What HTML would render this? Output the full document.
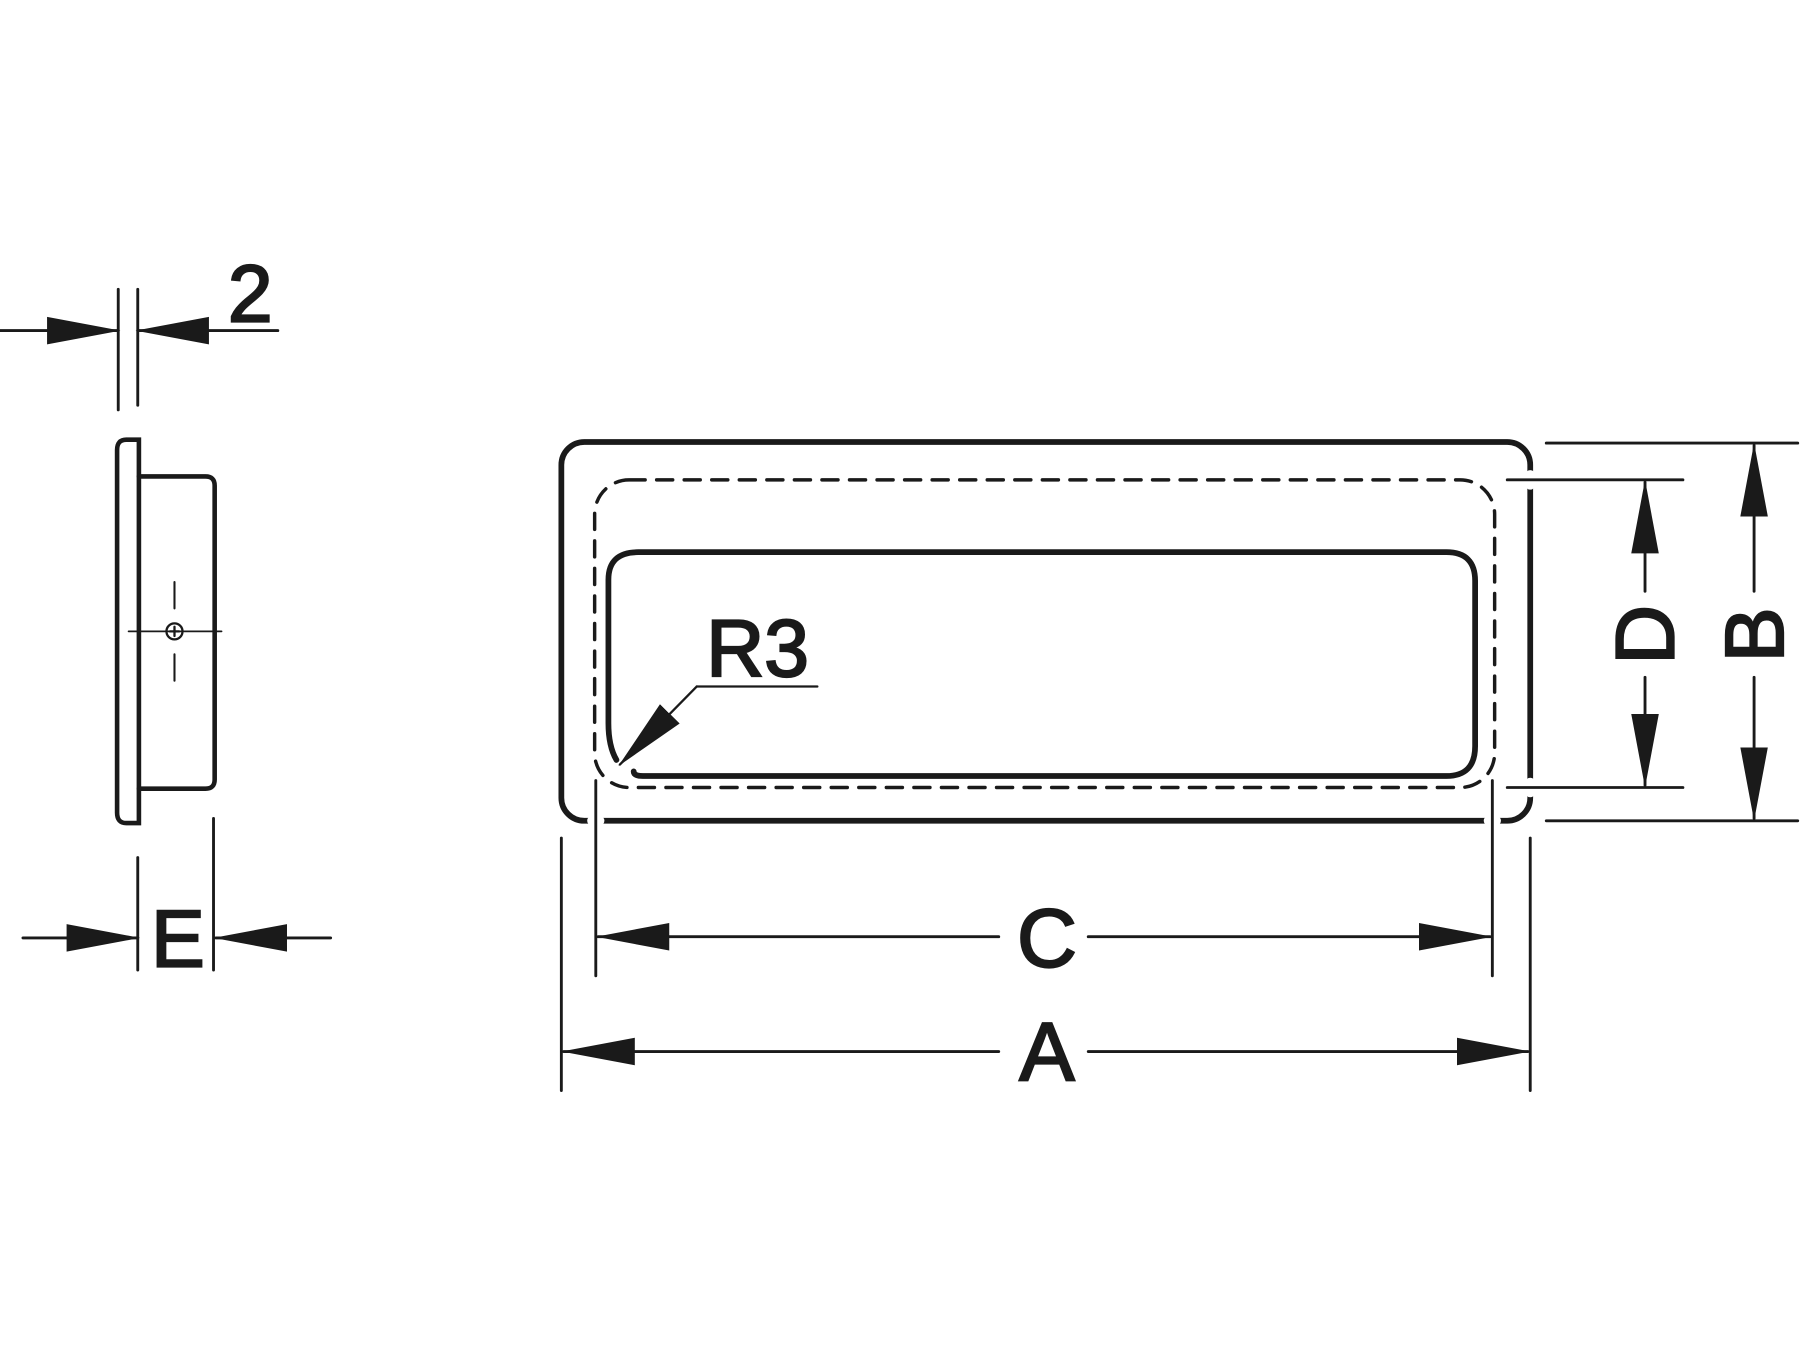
<!DOCTYPE html>
<html><head><style>html,body{margin:0;padding:0;background:#fff}svg{display:block}</style></head>
<body>
<svg width="1800" height="1350" viewBox="0 0 1568 1176" xmlns="http://www.w3.org/2000/svg">
<defs>
<marker id="ah" markerUnits="userSpaceOnUse" markerWidth="64" markerHeight="26" refX="62" refY="13" orient="auto">
<path d="M0,1 L64,13 L0,25 Z" fill="#1a1a1a"/>
</marker>
</defs>
<g fill="none" stroke="#1a1a1a" stroke-linecap="round">
<rect x="489" y="385" width="844" height="330" rx="20" stroke-width="5"/>
<line x1="1333" y1="414" x2="1333" y2="422" stroke="#fff" stroke-width="9"/>
<line x1="1333" y1="682" x2="1333" y2="690" stroke="#fff" stroke-width="9"/>
<line x1="516" y1="715" x2="522" y2="715" stroke="#fff" stroke-width="9"/>
<line x1="1297" y1="715" x2="1303" y2="715" stroke="#fff" stroke-width="9"/>
<rect x="518" y="418" width="784" height="268" rx="30" stroke-width="3" stroke-dasharray="14,10"/>
<path d="M537,662 Q530,650 530,630 L530,505 Q530,481 556,481 L1260,481 Q1285,481 1285,506 L1285,650 Q1285,676 1260,676 L560,676 Q552,676 552,672" stroke-width="5"/>
<polyline points="712,598 607,598" stroke-width="2"/>
<line x1="607" y1="598" x2="540" y2="666" stroke-width="2" marker-end="url(#ah)"/>
<line x1="519" y1="680" x2="519" y2="850" stroke-width="2.5"/>
<line x1="1300" y1="680" x2="1300" y2="850" stroke-width="2.5"/>
<line x1="489" y1="730" x2="489" y2="950" stroke-width="2.5"/>
<line x1="1333" y1="730" x2="1333" y2="950" stroke-width="2.5"/>
<line x1="1347" y1="386" x2="1566" y2="386" stroke-width="2.5"/>
<line x1="1347" y1="715" x2="1566" y2="715" stroke-width="2.5"/>
<line x1="1313" y1="418" x2="1466" y2="418" stroke-width="2.5"/>
<line x1="1313" y1="686" x2="1466" y2="686" stroke-width="2.5"/>
<line x1="870" y1="816" x2="521" y2="816" stroke-width="2.5" marker-end="url(#ah)"/>
<line x1="948" y1="816" x2="1298" y2="816" stroke-width="2.5" marker-end="url(#ah)"/>
<line x1="870" y1="916" x2="491" y2="916" stroke-width="2.5" marker-end="url(#ah)"/>
<line x1="948" y1="916" x2="1331" y2="916" stroke-width="2.5" marker-end="url(#ah)"/>
<line x1="1433" y1="515" x2="1433" y2="420" stroke-width="2.5" marker-end="url(#ah)"/>
<line x1="1433" y1="590" x2="1433" y2="684" stroke-width="2.5" marker-end="url(#ah)"/>
<line x1="1528" y1="515" x2="1528" y2="388" stroke-width="2.5" marker-end="url(#ah)"/>
<line x1="1528" y1="590" x2="1528" y2="713" stroke-width="2.5" marker-end="url(#ah)"/>
<path d="M121,383 L110,383 Q102,383 102,392 L102,708 Q102,717 110,717 L121,717 Z" stroke-width="4"/>
<path d="M121,415 L179,415 Q187,415 187,423 L187,679 Q187,687 179,687 L121,687" stroke-width="4"/>
<line x1="112" y1="550" x2="193" y2="550" stroke-width="1.5"/>
<line x1="152" y1="507" x2="152" y2="530" stroke-width="1.8"/>
<line x1="152" y1="570" x2="152" y2="593" stroke-width="1.8"/>
<circle cx="152" cy="550" r="7" stroke-width="2"/>
<line x1="148" y1="550" x2="156" y2="550" stroke-width="2"/>
<line x1="152" y1="546" x2="152" y2="554" stroke-width="2"/>
<line x1="103" y1="252" x2="103" y2="357" stroke-width="2.5"/>
<line x1="120" y1="252" x2="120" y2="353" stroke-width="2.5"/>
<line x1="0" y1="288" x2="103" y2="288" stroke-width="2.5" marker-end="url(#ah)"/>
<line x1="242" y1="288" x2="120" y2="288" stroke-width="2.5" marker-end="url(#ah)"/>
<line x1="120" y1="747" x2="120" y2="845" stroke-width="2.5"/>
<line x1="186" y1="713" x2="186" y2="845" stroke-width="2.5"/>
<line x1="20" y1="817" x2="120" y2="817" stroke-width="2.5" marker-end="url(#ah)"/>
<line x1="288" y1="817" x2="188" y2="817" stroke-width="2.5" marker-end="url(#ah)"/>
</g>
<g font-family="Liberation Sans, sans-serif" fill="#1a1a1a" stroke="#1a1a1a" stroke-width="2" text-anchor="middle">
<text x="218" y="280" font-size="70">2</text>
<text x="155" y="842" font-size="70">E</text>
<text x="660" y="589" font-size="70">R3</text>
<text x="912" y="842" font-size="72">C</text>
<text x="912" y="941" font-size="72">A</text>
<text transform="translate(1458,553) rotate(-90)" font-size="72">D</text>
<text transform="translate(1553,553) rotate(-90)" font-size="72">B</text>
</g>
</svg>
</body></html>
